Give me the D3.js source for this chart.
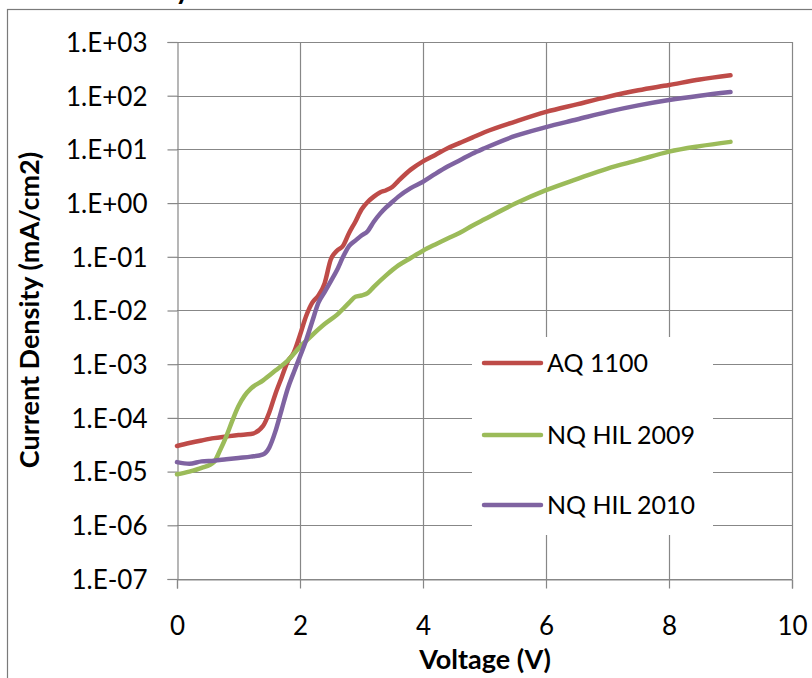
<!DOCTYPE html>
<html>
<head>
<meta charset="utf-8">
<script src="https://cdn.jsdelivr.net/npm/d3@7"></script>
<style>
  html, body { margin: 0; padding: 0; background: #fff; }
  svg { display: block; }
  text { font-family: Lato, "Open Sans", sans-serif; fill: #000; }
</style>
</head>
<body>
<svg width="812" height="678"></svg>
<script>
// voltage steps (V) for each series
const voltsAQ = [0,0.2,0.4,0.6,0.8,1.0,1.2,1.4,1.5,1.6,1.7,1.8,1.9,2.0,2.1,2.2,2.3,2.4,2.5,2.6,2.7,2.8,2.9,3.0,3.1,3.2,3.3,3.4,3.5,3.6,3.8,4.0,4.2,4.4,4.6,4.8,5.0,5.5,6.0,6.5,7.0,7.5,8.0,8.5,9.0];
const voltsHIL2010 = voltsAQ;
const voltsHIL2009 = [0,0.2,0.4,0.6,0.7,0.8,0.9,1.0,1.1,1.2,1.4,1.6,1.8,2.0,2.2,2.4,2.6,2.8,2.9,3.0,3.1,3.2,3.4,3.6,3.8,4.0,4.2,4.4,4.6,4.8,5.0,5.5,6.0,6.5,7.0,7.5,8.0,8.5,9.0];

// current density (mA/cm2)
const densityAQ = [3.0e-5,3.4e-5,3.8e-5,4.2e-5,4.5e-5,4.8e-5,5.0e-5,7.1e-5,1.26e-4,2.8e-4,5.6e-4,1.12e-3,1.66e-3,3.5e-3,7.9e-3,1.4e-2,1.9e-2,3.2e-2,8.9e-2,0.13,0.16,0.28,0.45,0.76,1.05,1.32,1.58,1.74,2.0,2.6,4.2,6.0,7.9,10.5,13.2,16.6,20.9,33,50,69,95,126,158,200,240];
const densityHIL2009 = [8.9e-6,1.0e-5,1.17e-5,1.5e-5,2.5e-5,4.5e-5,8.9e-5,1.66e-4,2.6e-4,3.5e-4,5.0e-4,7.6e-4,1.17e-3,2.1e-3,3.5e-3,5.6e-3,8.3e-3,1.4e-2,1.8e-2,1.9e-2,2.1e-2,2.75e-2,4.5e-2,6.9e-2,9.5e-2,0.13,0.17,0.22,0.28,0.38,0.50,0.98,1.74,2.8,4.4,6.3,9.1,11.5,13.8];
const densityHIL2010 = [1.5e-5,1.4e-5,1.55e-5,1.6e-5,1.7e-5,1.8e-5,1.9e-5,2.1e-5,2.8e-5,5.6e-5,1.4e-4,3.5e-4,7.1e-4,1.4e-3,2.8e-3,6.3e-3,1.4e-2,2.2e-2,3.5e-2,5.6e-2,0.10,0.16,0.20,0.25,0.30,0.45,0.63,0.83,1.05,1.32,1.9,2.5,3.5,4.8,6.3,8.3,10.5,17.8,26,36,50,66,83,100,117];

const seriesNames = ["AQ 1100", "NQ HIL 2009", "NQ HIL 2010"];
const seriesColors = ["#be4b48", "#9bbb59", "#7f63a1"];
const xTicks = [0, 2, 4, 6, 8, 10];
const yTicks = [1e-7,1e-6,1e-5,1e-4,1e-3,1e-2,1e-1,1e0,1e1,1e2,1e3];
const yTickLabels = ["1.E-07","1.E-06","1.E-05","1.E-04","1.E-03","1.E-02","1.E-01","1.E+00","1.E+01","1.E+02","1.E+03"];

const series = [
  {name: seriesNames[0], color: seriesColors[0], pts: voltsAQ.map((v, i) => [v, densityAQ[i]])},
  {name: seriesNames[1], color: seriesColors[1], pts: voltsHIL2009.map((v, i) => [v, densityHIL2009[i]])},
  {name: seriesNames[2], color: seriesColors[2], pts: voltsHIL2010.map((v, i) => [v, densityHIL2010[i]])}
];

const svg = d3.select("svg");
const gridColor = "#878787";

// outer chart frame (runs off the picture on right/bottom) and the title, cut by the top edge as in the source
svg.append("rect").attr("x", 7.5).attr("y", 9.5).attr("width", 900).attr("height", 900)
  .attr("fill", "none").attr("stroke", "#7a7a7a").attr("stroke-width", 1.2);
svg.append("text").attr("x", 190).attr("y", -1).attr("text-anchor", "end")
  .style("font-size", "28px").style("font-weight", "bold").text("Current Density");

const x = d3.scaleLinear().domain([0, 10]).range([177, 792]);
const y = d3.scaleLog().domain([1e-7, 1e3]).range([579, 42]);

// gridlines
svg.append("g").selectAll("line.h").data(yTicks).enter().append("line")
  .attr("x1", x(0)).attr("x2", x(10))
  .attr("y1", d => Math.round(y(d)) + 0.5).attr("y2", d => Math.round(y(d)) + 0.5)
  .attr("stroke", gridColor).attr("stroke-width", 1.2);
svg.append("g").selectAll("line.v").data(xTicks.slice(1)).enter().append("line")
  .attr("x1", d => Math.round(x(d)) + 0.5).attr("x2", d => Math.round(x(d)) + 0.5)
  .attr("y1", y(1e3)).attr("y2", y(1e-7))
  .attr("stroke", gridColor).attr("stroke-width", 1.2);

// axes
const yAxis = d3.axisLeft(y).tickValues(yTicks).tickSize(10).tickPadding(20)
  .tickFormat((d, i) => yTickLabels[i]);
const gy = svg.append("g").attr("transform", "translate(" + (x(0) + 0.5) + ",0)").call(yAxis);
const xAxis = d3.axisBottom(x).tickValues(xTicks).tickSize(9).tickPadding(33);
const gx = svg.append("g").attr("transform", "translate(0," + (y(1e-7) + 0.5) + ")").call(xAxis);
[gy, gx].forEach(g => {
  g.select(".domain").attr("stroke", gridColor).attr("stroke-width", 1.2);
  g.selectAll(".tick line").attr("stroke", gridColor).attr("stroke-width", 1.2);
  g.selectAll(".tick text").style("font-size", "26px").style("font-family", "Lato, sans-serif").attr("fill", "#000");
});
gy.selectAll(".tick text").attr("dy", "0.36em");
gx.selectAll(".tick text").attr("dy", "0.5em");

// axis titles
svg.append("text").attr("transform", "translate(39,310) rotate(-90)")
  .attr("text-anchor", "middle").style("font-size", "27px").style("font-weight", "bold")
  .text("Current Density (mA/cm2)");
svg.append("text").attr("x", 485).attr("y", 669)
  .attr("text-anchor", "middle").style("font-size", "27px").style("font-weight", "bold")
  .text("Voltage (V)");

// curves
const line = d3.line().x(d => x(d[0])).y(d => y(d[1])).curve(d3.curveMonotoneX);
svg.append("g").selectAll("path").data(series).enter().append("path")
  .attr("d", d => line(d.pts))
  .attr("fill", "none").attr("stroke", d => d.color)
  .attr("stroke-width", 4.5).attr("stroke-linejoin", "round").attr("stroke-linecap", "round");

// legend
const legend = svg.append("g");
legend.append("rect").attr("x", 472).attr("y", 337).attr("width", 241).attr("height", 198).attr("fill", "#fff");
const legendY = [363, 435, 505];
const item = legend.selectAll("g.item").data(series).enter().append("g")
  .attr("transform", (d, i) => "translate(0," + legendY[i] + ")");
item.append("line").attr("x1", 484).attr("x2", 541).attr("y1", 0).attr("y2", 0)
  .attr("stroke", d => d.color).attr("stroke-width", 4.5).attr("stroke-linecap", "round");
item.append("text").attr("x", 547).attr("y", 0).attr("dy", "0.35em")
  .style("font-size", "25px").text(d => d.name);
</script>
</body>
</html>
